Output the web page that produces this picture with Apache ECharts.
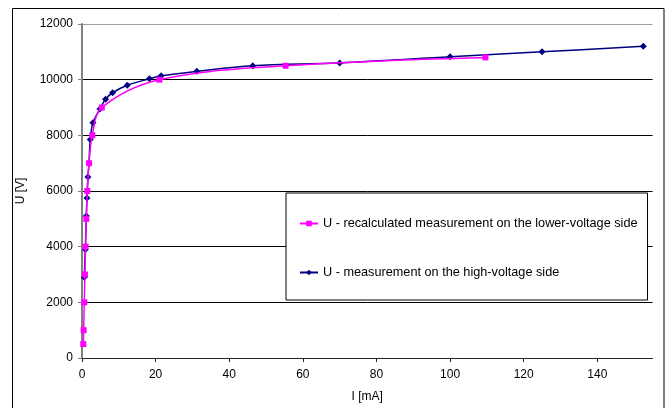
<!DOCTYPE html>
<html>
<head>
<meta charset="utf-8">
<script src="https://cdn.jsdelivr.net/npm/echarts@6/dist/echarts.min.js"></script>
<style>
html,body{margin:0;padding:0;background:#fff;}
#c{width:670px;height:408px;}
</style>
</head>
<body>
<div id="c"></div>
<script>
const lowName = 'U - recalculated measurement on the lower-voltage side';
const highName = 'U - measurement on the high-voltage side';
const lowI = [0.35, 0.45, 0.62, 0.8, 0.98, 1.17, 1.44, 1.9, 2.8, 5.4, 21.0, 55.3, 109.6];
const lowU = [500, 1000, 2000, 3000, 4000, 5000, 6000, 7000, 8000, 9000, 10000, 10500, 10800];
const highI = [0.62, 0.9, 1.17, 1.35, 1.62, 1.9, 2.25, 2.98, 4.88, 6.4, 8.3, 12.3, 18.3, 21.5, 31.2, 46.4, 70, 100, 125, 152.5];
const highU = [2900, 3900, 5100, 5750, 6500, 7000, 7850, 8450, 8950, 9300, 9530, 9800, 10030, 10140, 10300, 10500, 10600, 10820, 11000, 11200];
const xTicks = [0, 20, 40, 60, 80, 100, 120, 140];
const yTicks = [0, 2000, 4000, 6000, 8000, 10000, 12000];

const font = 'Liberation Sans, Arial, sans-serif';
const chart = echarts.init(document.getElementById('c'), null, {renderer: 'canvas'});
chart.setOption({
  backgroundColor: '#fff',
  animation: false,
  textStyle: {fontFamily: font},
  graphic: [{
    type: 'rect', z: 100, silent: true,
    shape: {x: 12.5, y: 8.5, width: 651.5, height: 410},
    style: {fill: 'none', stroke: '#000', lineWidth: 1}
  }],
  grid: {left: 82, top: 24, right: 17.5, bottom: 50, containLabel: false},
  legend: {
    orient: 'vertical', left: 286, top: 193,
    data: [lowName, highName],
    backgroundColor: '#fff', borderColor: '#000', borderWidth: 1,
    padding: [24, 10, 21, 13], itemGap: 36, itemWidth: 18, itemHeight: 7,
    textStyle: {fontFamily: font, fontSize: 12.7, color: '#000'}
  },
  xAxis: {
    type: 'value', min: 0, max: 155, interval: 20,
    name: 'I [mA]', nameLocation: 'middle', nameGap: 33,
    nameTextStyle: {fontFamily: font, fontSize: 12, color: '#000'},
    axisLine: {show: true, lineStyle: {color: '#222', width: 1}},
    axisTick: {show: true, inside: false, length: 4, lineStyle: {color: '#222'}},
    axisLabel: {fontFamily: font, fontSize: 12, color: '#000', margin: 11, showMaxLabel: false,
      formatter: v => (xTicks.indexOf(v) >= 0 ? String(v) : '')},
    splitLine: {show: false}
  },
  yAxis: {
    type: 'value', min: 0, max: 12000, interval: 2000,
    name: 'U [V]', nameLocation: 'middle', nameGap: 55,
    nameTextStyle: {fontFamily: font, fontSize: 12, color: '#000'},
    axisLine: {show: true, lineStyle: {color: '#808080', width: 2}},
    axisTick: {show: true, inside: false, length: 4, lineStyle: {color: '#808080'}},
    axisLabel: {fontFamily: font, fontSize: 12, color: '#000', margin: 9,
      formatter: v => (yTicks.indexOf(v) >= 0 ? String(v) : '')},
    splitLine: {show: true, lineStyle: {color: ['#000', '#000', '#000', '#000', '#000', '#000', '#a0a0a0'], width: 1}}
  },
  series: [
    {
      name: highName, type: 'line', smooth: 0.35, z: 2,
      data: highI.map((x, i) => [x, highU[i]]),
      symbol: 'diamond', symbolSize: 7,
      itemStyle: {color: '#000080'},
      lineStyle: {color: '#000080', width: 1.5}
    },
    {
      name: lowName, type: 'line', smooth: 0.35, z: 3,
      data: lowI.map((x, i) => [x, lowU[i]]),
      symbol: 'rect', symbolSize: 6,
      itemStyle: {color: '#ff00ff'},
      lineStyle: {color: '#ff00ff', width: 1.5}
    }
  ]
});
</script>
</body>
</html>
